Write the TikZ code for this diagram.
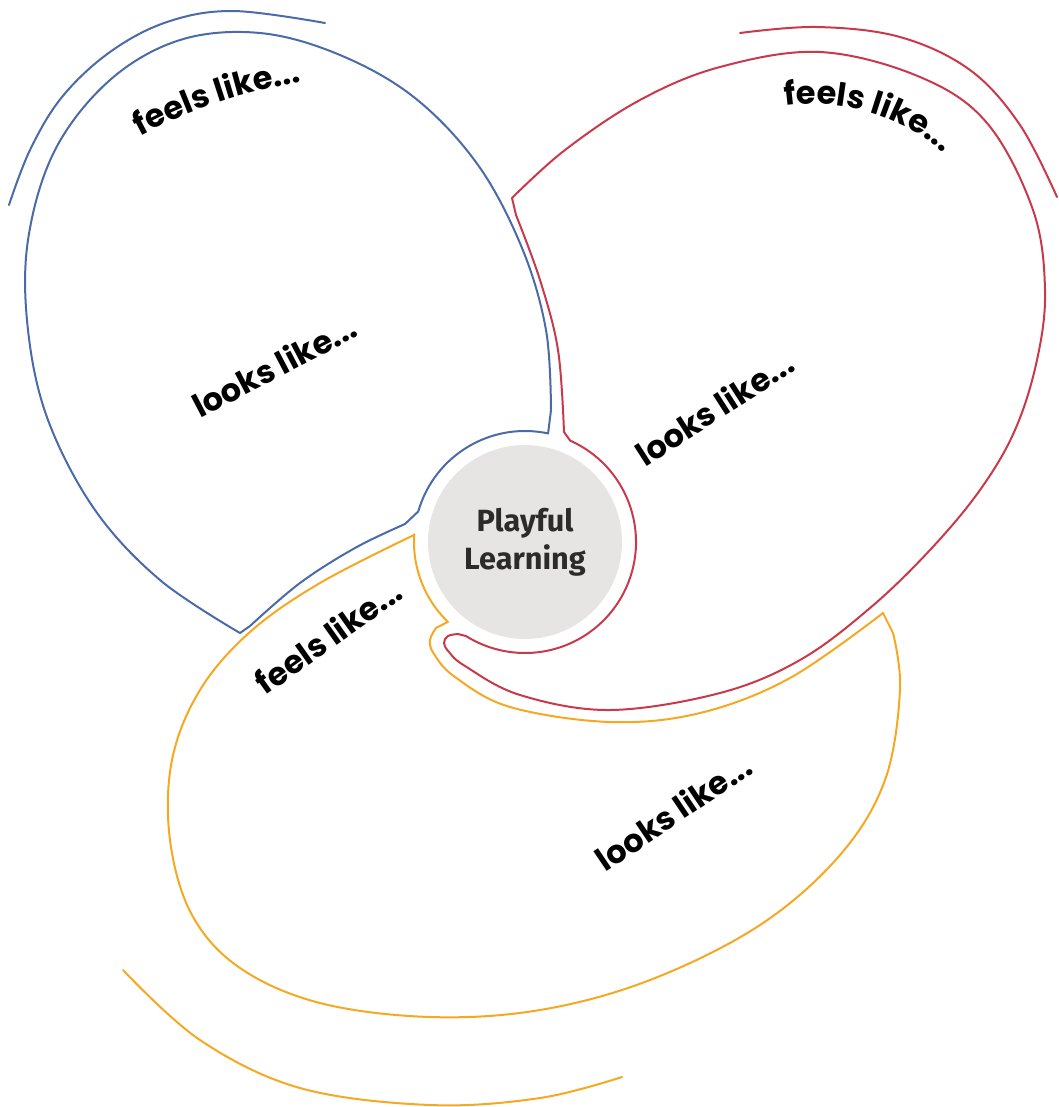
\documentclass[tikz,border=0pt]{standalone}
\usepackage{fontspec}
\usepackage{tikz}
\usetikzlibrary{calc, decorations.text}
\newfontfamily\labelfont{Poppins}
\newfontfamily\hubfont{Fira Sans}
\definecolor{petalblue}{HTML}{4A6BA8}
\definecolor{petalred}{HTML}{C83A4B}
\definecolor{petalamber}{HTML}{F6A823}
\definecolor{hubgrey}{HTML}{E6E5E4}
\definecolor{hubtext}{HTML}{2B2B2B}
\newcommand{\lblset}{\labelfont\bfseries\fontsize{24}{29}\selectfont}
\tikzset{
  petal/.style={line width=1.5pt, line join=round, line cap=round},
  bluepetal/.style={petal, draw=petalblue},
  redpetal/.style={petal, draw=petalred},
  amberpetal/.style={petal, draw=petalamber},
  lbl/.style={font=\lblset, inner sep=0pt, text=black},
  hub/.style={circle, fill=hubgrey, minimum size=145.5pt, inner sep=0pt, align=center, text=hubtext,
    font=\hubfont\bfseries\fontsize{23}{28.5}\selectfont},
}

\begin{document}
\begin{tikzpicture}[x=0.75pt, y=-0.75pt]
  \useasboundingbox (0,0) rectangle (1058,1107);
  \coordinate (pc) at (525,542);
  \node[hub] (hub) at (pc) {Playful\\Learning};

  % blue petal
  \draw[bluepetal] ($(pc)+(164:83.25pt)$) arc[start angle=164, end angle=78, radius=83.25pt]
    -- plot[smooth, tension=0.6] coordinates {(551,410) (546,330) (522,248) (478,165) (415,98) (340,55) (260,33) (180,40) (110,80) (55,150) (28,240) (28,330) (48,420) (95,510) (160,580) (240,633)}
    -- plot[smooth, tension=0.6] coordinates {(250,626) (300,583) (355,548) (405,524)}
    -- cycle;
  \draw[bluepetal] plot[smooth, tension=0.6] coordinates {(9,205) (30,150) (62,97) (110,52) (167,22) (233,11) (325,23)};

  % red petal
  \draw[redpetal] ($(pc)+(66:83.25pt)$) arc[start angle=66, end angle=-122, radius=83.25pt]
    -- plot[smooth, tension=0.6] coordinates {(458,634) (448,636) (444,643) (449,652) (465,666) (520,695) (610,710) (720,693) (800,660) (870,608) (930,550) (980,490) (1015,430) (1037,360) (1045,290) (1033,210) (987,123) (920,77) (820,52) (720,67) (640,100) (565,150) (512,198)}
    -- plot[smooth, tension=0.6] coordinates {(516,215) (540,280) (558,350) (564,432)}
    -- cycle;
  \draw[redpetal] plot[smooth, tension=0.6] coordinates {(740,33) (817,27) (900,37) (970,70) (1020,125) (1057,197)};

  % amber petal
  \draw[amberpetal] ($(pc)+(176:83.25pt)$) arc[start angle=176, end angle=226, radius=83.25pt]
    -- plot[smooth, tension=0.6] coordinates {(436,628) (430,640) (434,654) (455,677) (510,707) (610,722) (700,713) (790,678) (883,613)}
    -- plot[smooth, tension=0.6] coordinates {(893,633) (900,690) (885,780) (840,855) (760,925) (650,980) (540,1010) (430,1017) (320,1003) (240,968) (192,915) (170,840) (172,760) (200,690) (250,632) (320,583) (414,535)}
    -- cycle;
  \draw[amberpetal] plot[smooth, tension=0.6] coordinates {(123,970) (200,1040) (300,1088) (430,1105) (540,1098) (622,1077)};

  % labels
  \coordinate (bendTL) at (374,566);
  \coordinate (bendTR) at (812,306);
  \path[decorate, decoration={text along path, text align=center, text format delimiters={|}{|},
    text={|\lblset|feels like...}}] ($(bendTL)+(125:366.75pt)$) arc[start angle=125, end angle=92, radius=366.75pt];
  \path[decorate, decoration={text along path, text align=center, text format delimiters={|}{|},
    text={|\lblset|feels like...}}] ($(bendTR)+(103:151.5pt)$) arc[start angle=103, end angle=44, radius=151.5pt];
  \node[lbl, rotate=27.6] (looksTL) at (274,366) {looks like...};
  \node[lbl, rotate=32.7] (looksR) at (714,408) {looks like...};
  \node[lbl, rotate=35.4] (feelsBL) at (328,636) {feels like...};
  \node[lbl, rotate=34] (looksB) at (673,812) {looks like...};
\end{tikzpicture}
\end{document}
